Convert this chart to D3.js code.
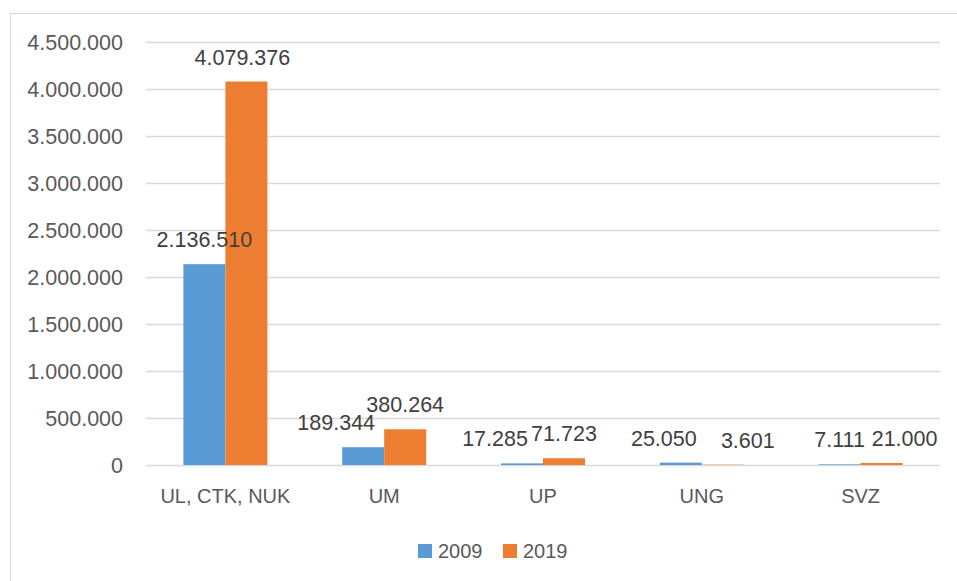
<!DOCTYPE html>
<html>
<head>
<meta charset="utf-8">
<script src="https://cdn.jsdelivr.net/npm/d3@7"></script>
<style>
  html, body { margin: 0; padding: 0; background: #fff; }
  svg { display: block; }
  text { font-family: "Liberation Sans", Arial, sans-serif; }
</style>
</head>
<body>
<svg id="chart" width="957" height="581"></svg>
<script>
const categories = ["UL, CTK, NUK", "UM", "UP", "UNG", "SVZ"];
const seriesNames = ["2009", "2019"];
const values2009 = [2136510, 189344, 17285, 25050, 7111];
const values2019 = [4079376, 380264, 71723, 3601, 21000];
const yTicks = [0, 500000, 1000000, 1500000, 2000000, 2500000, 3000000, 3500000, 4000000, 4500000];
const colors = ["#5b9bd5", "#ed7d31"];

const series = [values2009, values2019];
// manual label shifts (pixels) as positioned in the reference
const labelDx = [[0, -27, -27, -17, 0], [-4, 0, 0, 25, 23]];

const svg = d3.select("#chart");
const fmt = v => d3.format(",")(v).replace(/,/g, ".");

// outer chart border
svg.append("rect").attr("x", 10.5).attr("y", 13.5).attr("width", 1000).attr("height", 1000)
  .attr("fill", "none").attr("stroke", "#d9d9d9").attr("stroke-width", 1);

const x0 = d3.scaleBand().domain(categories).range([146, 940]).paddingInner(0).paddingOuter(0);
const bandW = x0.bandwidth();
const groupW = 84;
const x1 = d3.scaleBand().domain(seriesNames).range([0, groupW]);
const y = d3.scaleLinear().domain([0, 4500000]).range([465, 42]);

// y axis labels
const yAxis = d3.axisLeft(y).tickValues(yTicks).tickSize(0).tickFormat(fmt);
const gY = svg.append("g").attr("transform", "translate(123,0)").call(yAxis);
gY.select(".domain").remove();
gY.selectAll("text").attr("x", 0).attr("dy", "0.35em").attr("font-size", 21.5).attr("fill", "#595959")
  .style("font-family", "'Liberation Sans', Arial, sans-serif");

// gridlines
svg.append("g").selectAll("line").data(yTicks).join("line")
  .attr("x1", 146).attr("x2", 940)
  .attr("y1", d => Math.round(y(d)) + 0.5).attr("y2", d => Math.round(y(d)) + 0.5)
  .attr("stroke", "#d9d9d9").attr("stroke-width", 1.5);

// bars
const groups = svg.append("g").selectAll("g").data(categories).join("g")
  .attr("transform", c => `translate(${x0(c) + (bandW - groupW) / 2},0)`);

groups.selectAll("rect").data((c, i) => series.map((s, k) => ({ k, v: s[i] }))).join("rect")
  .attr("x", d => x1(seriesNames[d.k]))
  .attr("width", x1.bandwidth())
  .attr("y", d => y(d.v))
  .attr("height", d => y(0) - y(d.v))
  .attr("fill", d => colors[d.k]);

// value labels
groups.selectAll("text").data((c, i) => series.map((s, k) => ({ k, i, v: s[i] }))).join("text")
  .attr("x", d => x1(seriesNames[d.k]) + x1.bandwidth() / 2 + labelDx[d.k][d.i])
  .attr("y", d => y(d.v) - 17)
  .attr("text-anchor", "middle")
  .attr("font-size", 21.5)
  .attr("fill", "#404040")
  .text(d => fmt(d.v));

// x axis labels
const xAxis = d3.axisBottom(x0).tickSize(0);
const gX = svg.append("g").attr("transform", "translate(0,465)").call(xAxis);
gX.select(".domain").remove();
gX.selectAll("text").attr("y", 38).attr("dy", 0).attr("font-size", 20).attr("fill", "#595959")
  .style("font-family", "'Liberation Sans', Arial, sans-serif");

// legend
const legendX = [418, 503];
const legend = svg.append("g").selectAll("g").data(seriesNames).join("g")
  .attr("transform", (d, i) => `translate(${legendX[i]},544)`);
legend.append("rect").attr("width", 14).attr("height", 14).attr("fill", (d, i) => colors[i]);
legend.append("text").attr("x", 20).attr("y", 14).attr("font-size", 20).attr("fill", "#595959").text(d => d);
</script>
</body>
</html>
